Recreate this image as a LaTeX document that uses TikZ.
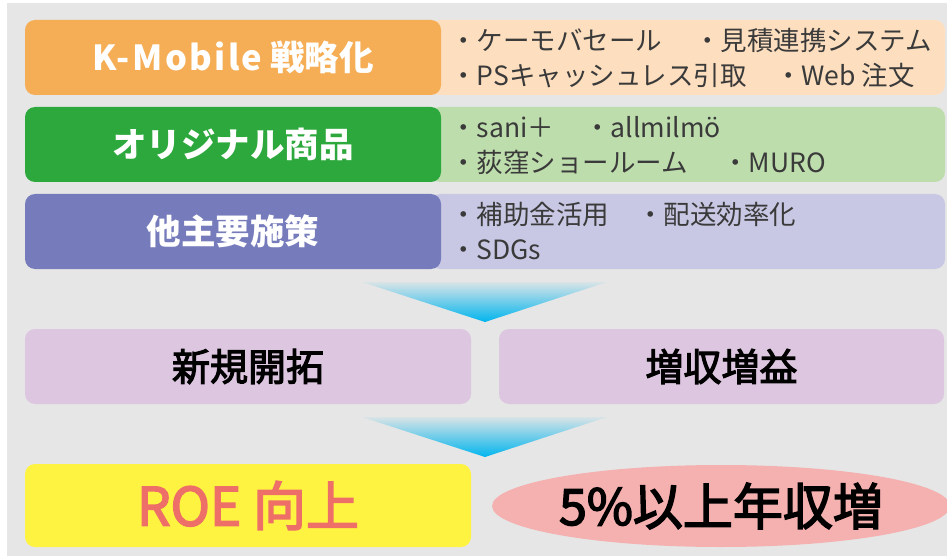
\documentclass[tikz,border=0pt]{standalone}
\usepackage{fontspec}
\setmainfont{Noto Sans CJK JP}
\newfontfamily\heavyfont{Noto Sans CJK JP}[FakeBold=3, BoldFont={Noto Sans CJK JP}, BoldFeatures={FakeBold=3}]
\newfontfamily\widefont{Noto Sans CJK JP}[LetterSpace=7]
\usetikzlibrary{shapes.geometric}
\definecolor{bgc}{HTML}{E6E6E6}
\definecolor{orangeH}{HTML}{F5AE55}
\definecolor{orangeL}{HTML}{FDDFBF}
\definecolor{greenH}{HTML}{2CA83C}
\definecolor{greenL}{HTML}{BEDDAD}
\definecolor{purpH}{HTML}{757BBB}
\definecolor{purpL}{HTML}{C8C8E4}
\definecolor{pinkbox}{HTML}{DCC6E0}
\definecolor{yellowbox}{HTML}{FFF342}
\definecolor{ellc}{HTML}{F4B1B0}
\definecolor{roec}{HTML}{EE6F67}
\definecolor{arrc}{HTML}{00B5EE}
\definecolor{txtc}{HTML}{3A3A3A}
\tikzset{
  headbox/.style={rounded corners=10pt, minimum width=416pt, minimum height=75pt, inner sep=0pt,
    text=white, font=\fontsize{34.5}{38}\selectfont\bfseries},
  lightbox/.style={rounded corners=10pt, minimum width=515pt, minimum height=75pt, inner sep=0pt},
  item/.style={anchor=base west, inner sep=0pt, text=txtc, font=\fontsize{26.5}{30}\selectfont},
  resultbox/.style={fill=pinkbox, rounded corners=10pt, minimum height=75pt, inner sep=0pt,
    font=\fontsize{38}{42}\selectfont\heavyfont\bfseries},
  downarrow/.style={top color=arrc!6!bgc, middle color=arrc!85!white, bottom color=arrc}
}
\begin{document}
\begin{tikzpicture}[x=1pt,y=-1pt]
\useasboundingbox (0,0) rectangle (947,556);
\fill[bgc] (7,3) rectangle (947,556);

% row 1
\node[lightbox, fill=orangeL] (l1) at (687.5,57.5) {};
\node[headbox, fill=orangeH] (h1) at (233,57.5) {{\widefont\bfseries K-Mobile} 戦略化};
% row 2
\node[lightbox, fill=greenL] (l2) at (687.5,144.5) {};
\node[headbox, fill=greenH] (h2) at (233,144.5) {オリジナル商品};
% row 3
\node[lightbox, fill=purpL] (l3) at (687.5,231.5) {};
\node[headbox, fill=purpH] (h3) at (233,231.5) {他主要施策};

% items
\node[item] (a1) at (450,50.5) {・ケーモバセール};
\node[item] (a2) at (694,50.5) {・見積連携システム};
\node[item] (a3) at (450,85.5) {・PSキャッシュレス引取};
\node[item] (a4) at (775,85.5) {・Web 注文};
\node[item] (b1) at (450,137.5) {・sani＋};
\node[item] (b2) at (584,137.5) {・allmilmö};
\node[item] (b3) at (450,172.5) {・荻窪ショールーム};
\node[item] (b4) at (722,172.5) {・MURO};
\node[item] (c1) at (450,224.5) {・補助金活用};
\node[item] (c2) at (637,224.5) {・配送効率化};
\node[item] (c3) at (450,259.5) {・SDGs};

% arrows
\shade[downarrow] (362,282) -- (607,282) -- (485,322) -- cycle;
\shade[downarrow] (362,417) -- (607,417) -- (485,457) -- cycle;

% results
\node[resultbox, minimum width=446pt] (r1) at (248,366.5) {新規開拓};
\node[resultbox, minimum width=445pt] (r2) at (721.5,366.5) {増収増益};

% goals
\node[fill=yellowbox, rounded corners=10pt, minimum width=446pt, minimum height=83pt, inner sep=0pt,
  text=roec, font=\fontsize{53}{56}\selectfont\heavyfont\bfseries] (g1) at (248,505.5) {ROE 向上};
\node[ellipse, fill=ellc, minimum width=405pt, minimum height=82pt, inner sep=0pt,
  font=\fontsize{50}{54}\selectfont\heavyfont\bfseries] (g2) at (721,506) {5\%以上年収増};
\end{tikzpicture}
\end{document}
